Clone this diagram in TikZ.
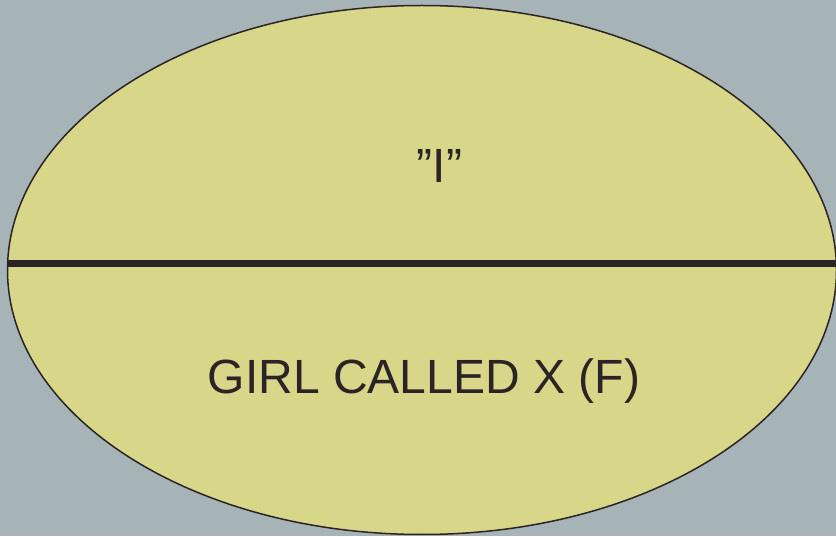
\documentclass[tikz,border=0pt]{standalone}
\usepackage{fontspec}
\setmainfont{Liberation Sans}
\definecolor{bgc}{HTML}{A6B4B8}
\definecolor{fillc}{HTML}{D8D688}
\definecolor{inkc}{HTML}{2B2325}
\tikzset{
  lbl/.style={font=\fontsize{48}{58}\selectfont, text=inkc, inner sep=0pt, anchor=base}
}
\begin{document}
\begin{tikzpicture}[x=1pt,y=1pt]
\useasboundingbox (0,0) rectangle (836,536);
\fill[bgc] (0,0) rectangle (836,536);
\begin{scope}
\clip (0,0) rectangle (836,536);
\filldraw[fill=fillc, draw=inkc, line width=1.5pt] (422,266) ellipse [x radius=414.5, y radius=264.5];
\coordinate (L) at (7.6,272.5);
\coordinate (R) at (840,272.5);
\draw[inkc, line width=7pt] (L) -- (R);
\end{scope}
\node[lbl] (top) at (439.5,353) {”I”};
\node[lbl] (bot) at (424,142) {GIRL CALLED X (F)};
\end{tikzpicture}
\end{document}
